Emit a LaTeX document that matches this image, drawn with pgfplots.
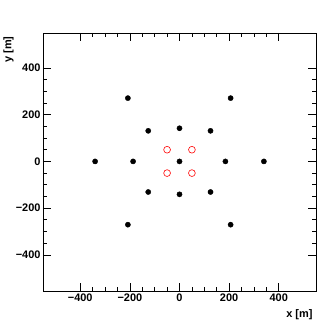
\documentclass[border=0pt]{standalone}
\usepackage{fontspec}
\setmainfont{Liberation Sans}
\usepackage{pgfplots}
\pgfplotsset{compat=1.18}
\newcommand{\mn}{\char"2212\relax}
\begin{document}
\begin{tikzpicture}
\begin{axis}[
  at={(0,0)}, anchor=south west,
  scale only axis,
  width=273bp, height=258bp,
  xmin=-550, xmax=550, ymin=-555, ymax=550,
  xtick={-400,-200,0,200,400},
  ytick={-400,-200,0,200,400},
  xticklabels={\mn400,\mn200,0,200,400},
  yticklabels={\mn400,\mn200,0,200,400},
  minor tick num=3,
  tick align=inside,
  major tick length=8bp, minor tick length=4bp,
  axis line style={line width=0.8bp},
  every tick/.style={black, line width=0.6bp},
  ticklabel style={font=\fontsize{11}{13}\selectfont\bfseries},
  xticklabel style={yshift=1bp},
  yticklabel style={xshift=1bp},
  xlabel={x [m]}, ylabel={y [m]},
  label style={font=\fontsize{11}{13}\selectfont\bfseries},
  xlabel style={at={(axis description cs:1,-0.093)}, anchor=east},
  ylabel style={at={(axis description cs:-0.126,1)}, anchor=east},
]
\addplot[only marks, mark=*, mark size=2.6bp, black] coordinates {
  (-340,0) (-187,0) (0,0) (185,0) (340,0)
  (-208,271) (206,271)
  (-126,131) (0,142) (125,131)
  (-126,-131) (0,-141) (125,-131)
  (-208,-271) (206,-271)
};
\addplot[only marks, mark=o, mark size=3.4bp, red, mark options={line width=0.6bp}] coordinates {
  (-50,50) (50,50) (-50,-50) (50,-50)
};
\end{axis}
\path (-43bp,-32bp) rectangle (289bp,291bp);
\end{tikzpicture}
\end{document}
